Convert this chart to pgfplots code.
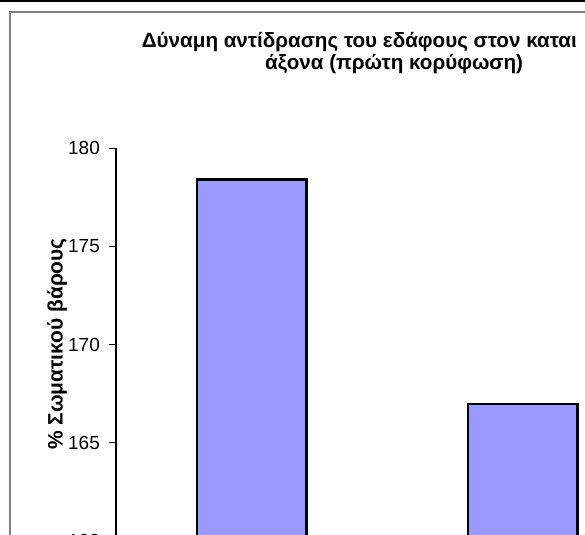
\documentclass[border=0pt]{standalone}
\usepackage{fontspec}
\setmainfont{Liberation Sans}
\usepackage{pgfplots}
\pgfplotsset{compat=1.18}
\definecolor{barblue}{RGB}{153,153,255}
\definecolor{framegray}{RGB}{128,128,128}
\begin{document}
\begin{tikzpicture}[x=1bp,y=1bp]
\useasboundingbox (0,0) rectangle (585,535);
\clip (0,0) rectangle (585,535);
% outer frame of the chart area
\fill[black] (0,533.3) rectangle (585,535);
\draw[framegray, line width=1.6bp] (10,-5) -- (10,523) -- (600,523);
\begin{axis}[
  at={(116bp,-5.9bp)}, anchor=south west, scale only axis,
  width=542bp, height=392.6bp,
  xmin=-0.5, xmax=1.5, ymin=160, ymax=180,
  axis y line=left, axis x line=bottom,
  axis line style={-, line width=1.1bp},
  xtick=\empty,
  ytick={160,165,170,175,180},
  tick align=outside, major tick length=7bp,
  ytick style={line width=1bp, black},
  /pgf/number format/assume math mode=true,
  yticklabel style={font=\fontsize{19}{22}\selectfont, inner sep=0pt, anchor=east, xshift=-9bp},
]
\addplot[ybar, bar width=109.4bp, fill=barblue, draw=black, line width=2.6bp]
  coordinates {(0,178.42) (1,166.97)};
\end{axis}
% title
\node[anchor=base west, inner sep=0, font=\bfseries\fontsize{20.7}{24}\selectfont]
  at (141.7,487.3) {Δύναμη αντίδρασης του εδάφους στον καται};
\node[anchor=base west, inner sep=0, font=\bfseries\fontsize{20.7}{24}\selectfont]
  at (265,465) {άξονα (πρώτη κορύφωση)};
% y axis title
\node[rotate=90, inner sep=0, font=\bfseries\fontsize{21}{24}\selectfont]
  at (57,191) {\% Σωματικού βάρους};
\end{tikzpicture}
\end{document}
